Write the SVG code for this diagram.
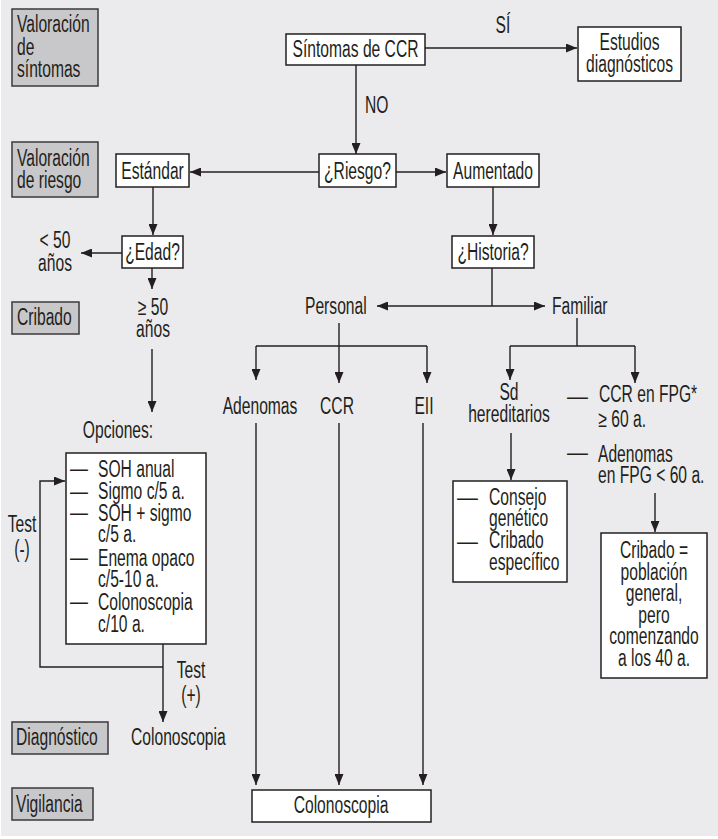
<svg xmlns="http://www.w3.org/2000/svg" width="718" height="839" viewBox="0 0 718 839">
<style>
.t{font-family:"Liberation Sans",Arial,sans-serif;font-size:23px;fill:#231f20}
.m{text-anchor:middle}
.b{fill:#fff;stroke:#231f20;stroke-width:1.5}
.g{fill:#c8c8ca;stroke:#3a3a3a;stroke-width:1.5}
.c path{fill:none;stroke:#231f20;stroke-width:1.4}
.ar{marker-end:url(#a)}
</style>
<defs>
<marker id="a" viewBox="0 0 11 9" refX="11" refY="4.5" markerWidth="11" markerHeight="9" markerUnits="userSpaceOnUse" orient="auto"><path d="M0,0 L11,4.5 L0,9z" fill="#231f20"/></marker>
</defs>
<rect width="718" height="839" fill="#fff"/>
<rect x="1" y="0" width="717" height="836" fill="#ebebed"/>

<g id="lbl-sintomas"><rect class="g" x="12" y="9" width="86" height="77"/><text class="t" transform="translate(17,32) scale(.68,1)"><tspan x="0" y="0">Valoración</tspan><tspan x="0" y="23">de</tspan><tspan x="0" y="45">síntomas</tspan></text></g>
<g id="lbl-riesgo"><rect class="g" x="12" y="142" width="86" height="55"/><text class="t" transform="translate(17,166) scale(.68,1)"><tspan x="0" y="0">Valoración</tspan><tspan x="0" y="22">de riesgo</tspan></text></g>
<g id="lbl-cribado"><rect class="g" x="12" y="302" width="67" height="32"/><text class="t" transform="translate(17,325) scale(.68,1)">Cribado</text></g>
<g id="lbl-diagnostico"><rect class="g" x="12" y="722" width="96" height="32"/><text class="t" transform="translate(16,745) scale(.68,1)">Diagnóstico</text></g>
<g id="lbl-vigilancia"><rect class="g" x="12" y="788" width="81" height="32"/><text class="t" transform="translate(16,812) scale(.68,1)">Vigilancia</text></g>

<g class="c" id="connectors">
<path class="ar" d="M425,48 H577"/>
<path class="ar" d="M356,65 V154"/>
<path class="ar" d="M319,172 H190"/>
<path class="ar" d="M396,172 H446"/>
<path class="ar" d="M153,187 V235"/>
<path class="ar" d="M122,253 H81"/>
<path class="ar" d="M152,268 V289"/>
<path class="ar" d="M152,349 V412"/>
<path class="ar" d="M493,187 V235"/>
<path d="M492,268 V306"/>
<path class="ar" d="M492,306 H377"/>
<path class="ar" d="M492,306 H545"/>
<path class="ar" d="M339,323 V383"/>
<path d="M256,346 H427"/>
<path class="ar" d="M256,346 V380"/>
<path class="ar" d="M427,346 V383"/>
<path d="M577,318 V346"/>
<path d="M510,346 H635"/>
<path class="ar" d="M510,346 V380"/>
<path class="ar" d="M635,346 V383"/>
<path class="ar" d="M511,433 V480"/>
<path class="ar" d="M655,493 V532"/>
<path class="ar" d="M163,644 V722"/>
<path class="ar" d="M163,667 H40 V481 H65"/>
<path class="ar" d="M256,423 V785"/>
<path class="ar" d="M339,423 V785"/>
<path class="ar" d="M423,423 V785"/>
</g>

<g id="sintomas"><rect class="b" x="286" y="34" width="139" height="31"/><text class="t m" transform="translate(355.5,57) scale(.68,1)">Síntomas de CCR</text></g>
<g id="si"><text class="t m" transform="translate(503,33) scale(.68,1)">SÍ</text></g>
<g id="estudios"><rect class="b" x="578" y="27" width="103" height="54"/><text class="t m" transform="translate(629.5,50) scale(.68,1)"><tspan x="0" y="0">Estudios</tspan><tspan x="0" y="22">diagnósticos</tspan></text></g>
<g id="no"><text class="t" transform="translate(365,113) scale(.68,1)">NO</text></g>
<g id="riesgo"><rect class="b" x="319" y="154" width="77" height="33"/><text class="t m" transform="translate(357.5,178.5) scale(.68,1)">¿Riesgo?</text></g>
<g id="estandar"><rect class="b" x="116" y="154" width="73" height="33"/><text class="t m" transform="translate(152.5,178.5) scale(.68,1)">Estándar</text></g>
<g id="aumentado"><rect class="b" x="447" y="154" width="92" height="33"/><text class="t m" transform="translate(493,178.5) scale(.68,1)">Aumentado</text></g>
<g id="edad"><rect class="b" x="122" y="236" width="61" height="32"/><text class="t m" transform="translate(152.5,260) scale(.68,1)">¿Edad?</text></g>
<g id="menor50"><text class="t m" transform="translate(55,248) scale(.68,1)"><tspan x="0" y="0">&lt; 50</tspan><tspan x="0" y="23">años</tspan></text></g>
<g id="mayor50"><text class="t m" transform="translate(153,315) scale(.68,1)"><tspan x="0" y="0">≥ 50</tspan><tspan x="0" y="22">años</tspan></text></g>
<g id="opciones-t"><text class="t m" transform="translate(118,438) scale(.68,1)">Opciones:</text></g>
<g id="opciones"><rect class="b" x="66" y="453" width="140" height="191"/>
<text class="t" transform="translate(70,475.5) scale(.78,1)">—</text>
<text class="t" transform="translate(70,498.5) scale(.78,1)">—</text>
<text class="t" transform="translate(70,519.5) scale(.78,1)">—</text>
<text class="t" transform="translate(70,564.5) scale(.78,1)">—</text>
<text class="t" transform="translate(70,608.5) scale(.78,1)">—</text>
<text class="t" transform="translate(98,477) scale(.68,1)"><tspan x="0" y="0">SOH anual</tspan><tspan x="0" y="22">Sigmo c/5 a.</tspan><tspan x="0" y="44">SOH + sigmo</tspan><tspan x="0" y="65">c/5 a.</tspan><tspan x="0" y="89">Enema opaco</tspan><tspan x="0" y="110">c/5-10 a.</tspan><tspan x="0" y="133">Colonoscopia</tspan><tspan x="0" y="155">c/10 a.</tspan></text></g>
<g id="test-neg"><text class="t m" transform="translate(22,532) scale(.68,1)"><tspan x="0" y="0">Test</tspan><tspan x="0" y="25">(-)</tspan></text></g>
<g id="test-pos"><text class="t m" transform="translate(191,678) scale(.68,1)"><tspan x="0" y="0">Test</tspan><tspan x="0" y="25">(+)</tspan></text></g>
<g id="colono-diag"><text class="t" transform="translate(131,745) scale(.68,1)">Colonoscopia</text></g>
<g id="historia"><rect class="b" x="452" y="236" width="82" height="32"/><text class="t m" transform="translate(493,260) scale(.68,1)">¿Historia?</text></g>
<g id="personal"><text class="t" transform="translate(305,314) scale(.68,1)">Personal</text></g>
<g id="familiar"><text class="t" transform="translate(552,314) scale(.68,1)">Familiar</text></g>
<g id="adenomas"><text class="t m" transform="translate(260,414) scale(.68,1)">Adenomas</text></g>
<g id="ccr"><text class="t m" transform="translate(337,414) scale(.68,1)">CCR</text></g>
<g id="eii"><text class="t m" transform="translate(424,414) scale(.68,1)">EII</text></g>
<g id="sd"><text class="t m" transform="translate(509,400) scale(.68,1)"><tspan x="0" y="0">Sd</tspan><tspan x="0" y="22">hereditarios</tspan></text></g>
<g id="ccr-fpg"><text class="t" transform="translate(567,404) scale(.91,1)">—</text><text class="t" transform="translate(599,402) scale(.68,1)"><tspan x="0" y="0">CCR en FPG*</tspan><tspan x="-1" y="25">≥ 60 a.</tspan></text></g>
<g id="aden-fpg"><text class="t" transform="translate(567,459.5) scale(.91,1)">—</text><text class="t" transform="translate(598,462) scale(.68,1)"><tspan x="0" y="0">Adenomas</tspan><tspan x="0" y="21">en FPG &lt; 60 a.</tspan></text></g>
<g id="consejo"><rect class="b" x="453" y="481" width="114" height="101"/>
<text class="t" transform="translate(457,504.5) scale(.91,1)">—</text>
<text class="t" transform="translate(457,548.5) scale(.91,1)">—</text>
<text class="t" transform="translate(489,505) scale(.68,1)"><tspan x="0" y="0">Consejo</tspan><tspan x="0" y="21">genético</tspan><tspan x="0" y="43">Cribado</tspan><tspan x="0" y="65">específico</tspan></text></g>
<g id="cribado-pob"><rect class="b" x="601" y="533" width="106" height="145"/><text class="t m" transform="translate(654,558) scale(.68,1)"><tspan x="0" y="0">Cribado =</tspan><tspan x="0" y="21.6">población</tspan><tspan x="0" y="43.2">general,</tspan><tspan x="0" y="64.8">pero</tspan><tspan x="0" y="86.4">comenzando</tspan><tspan x="0" y="108">a los 40 a.</tspan></text></g>
<g id="colono-vig"><rect class="b" x="252" y="790" width="179" height="32"/><text class="t m" transform="translate(341,813) scale(.68,1)">Colonoscopia</text></g>
</svg>
